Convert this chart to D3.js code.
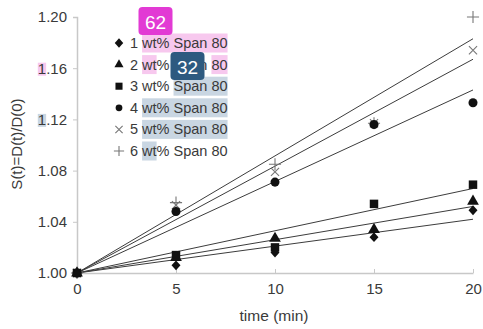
<!DOCTYPE html>
<html>
<head>
<meta charset="utf-8">
<script src="https://cdn.jsdelivr.net/npm/d3@7"></script>
<style>
    body { margin: 0; background: #fff; }
    .font { font-family: "Liberation Sans", Arial, sans-serif; }
</style>
</head>
<body>
<svg id="chart" width="483" height="329"></svg>
<script>
const SVG_WIDTH = 483;
const SVG_HEIGHT = 329;

// time points (min)
const TIMES = [0, 5, 10, 15, 20];
const SERIES_NAMES = ["1 wt% Span 80", "2 wt% Span 80", "3 wt% Span 80",
    "4 wt% Span 80", "5 wt% Span 80", "6 wt% Span 80"];
const SERIES_SYMBOLS = ["diamond", "triangle", "square", "circle", "cross", "plus"];
// measured S(t) per series
const S1 = [1.000, 1.006, 1.016, 1.028, 1.049];
const S2 = [1.000, 1.012, 1.027, 1.034, 1.056];
const S3 = [1.000, 1.014, 1.020, 1.054, 1.069];
const S4 = [1.000, 1.048, 1.071, 1.116, 1.133];
const S5 = [1.000, 1.053, 1.079, 1.117, 1.174];
const S6 = [1.000, 1.055, 1.085, 1.117, 1.200];
const SERIES_VALUES = [S1, S2, S3, S4, S5, S6];
// fitted line values at t = 20 (lines start at 1.00, t = 0)
const FIT_END = [1.042, 1.052, 1.066, 1.143, 1.167, 1.183];

const X_TICKS = [0, 5, 10, 15, 20];
const Y_TICKS = [1.00, 1.04, 1.08, 1.12, 1.16, 1.20];
const X_LABEL = "time (min)";
const Y_LABEL = "S(t)=D(t)/D(0)";

var svg = d3.select("#chart");

var xScale = d3.scaleLinear().domain([0, 20]).range([77, 473]);
var yScale = d3.scaleLinear().domain([1.0, 1.2]).range([273, 17]);

// axes
var yAxis = d3.axisLeft(yScale).tickValues(Y_TICKS).tickSize(4).tickPadding(6)
    .tickFormat(d3.format(".2f"));
var yAxisGroup = svg.append("g")
    .attr("transform", "translate(77,0)")
    .classed("font", true)
    .call(yAxis);
var xAxis = d3.axisBottom(xScale).tickValues(X_TICKS).tickSize(0).tickPadding(10);
var xAxisGroup = svg.append("g")
    .attr("transform", "translate(0,273)")
    .classed("font", true)
    .call(xAxis);
[yAxisGroup, xAxisGroup].forEach(function(g) {
    g.select(".domain").attr("stroke", "#c8c8c8").attr("stroke-width", 1.5);
    g.selectAll(".tick line").attr("stroke", "#c8c8c8");
    g.selectAll(".tick text").attr("fill", "#3a3a3a").style("font-size", "15px");
});
// small upward ticks on x axis
xAxisGroup.selectAll(".tick").filter(function(d) { return d > 0; })
    .append("line").attr("y1", 0).attr("y2", -4).attr("stroke", "#c8c8c8");

svg.append("text")
    .attr("x", 274).attr("y", 321)
    .attr("text-anchor", "middle")
    .attr("fill", "#3a3a3a")
    .style("font-size", "15.5px")
    .classed("font", true)
    .text(X_LABEL);
svg.append("text")
    .attr("transform", "translate(22,144) rotate(-90)")
    .attr("text-anchor", "middle")
    .attr("fill", "#3a3a3a")
    .style("font-size", "15px")
    .classed("font", true)
    .text(Y_LABEL);

// fit lines
var lineGroup = svg.append("g");
for (var i = 0; i < FIT_END.length; i++) {
    lineGroup.append("line")
        .attr("x1", xScale(0)).attr("y1", yScale(1.0))
        .attr("x2", xScale(20)).attr("y2", yScale(FIT_END[i]))
        .attr("stroke", "#3c3c3c")
        .attr("stroke-width", 1);
}

// markers
var wideDiamond = {
    draw: function(context, size) {
        var r = Math.sqrt(size / 2);
        context.moveTo(0, -r * 1.1);
        context.lineTo(r, 0);
        context.lineTo(0, r * 1.1);
        context.lineTo(-r, 0);
        context.closePath();
    }
};
function symbolFor(name) {
    switch (name) {
        case "diamond": return d3.symbol().type(wideDiamond).size(40);
        case "triangle": return d3.symbol().type(d3.symbolTriangle).size(60);
        case "square": return d3.symbol().type(d3.symbolSquare).size(72);
        case "circle": return d3.symbol().type(d3.symbolCircle).size(64);
        case "cross": return d3.symbol().type(d3.symbolTimes).size(45);
        case "plus": return d3.symbol().type(d3.symbolCross2 || d3.symbolPlus).size(50);
    }
}
function styleMarker(sel, name) {
    if (name === "cross" || name === "plus") {
        sel.attr("fill", "none").attr("stroke", "#777").attr("stroke-width", 1.1);
    } else {
        sel.attr("fill", "#111");
    }
}
var markGroup = svg.append("g");
for (var s = 5; s >= 0; s--) {
    var name = SERIES_SYMBOLS[s];
    var pts = markGroup.selectAll(null)
        .data(TIMES.map(function(t, j) { return {t: t, v: SERIES_VALUES[s][j]}; }))
        .enter()
        .append("path")
        .attr("d", symbolFor(name)())
        .attr("transform", function(d) {
            return "translate(" + xScale(d.t) + "," + yScale(d.v) + ")";
        });
    styleMarker(pts, name);
}

// legend with highlight marks
const HIGHLIGHTS = [
    [[2, 13, "#f7c8ee"]],
    [[2, 4, "#f7c8ee"], [11, 13, "#f7c8ee"]],
    [[6, 13, "#c9d6e2"]],
    [[2, 13, "#c9d6e2"]],
    [[2, 13, "#c9d6e2"]],
    [[2, 4, "#c9d6e2"]]
];
var legend = svg.append("g").classed("font", true);
SERIES_NAMES.forEach(function(label, i) {
    var cy = 43 + i * 21.6;
    var row = legend.append("g");
    var hl = row.append("g");
    var txt = row.append("text")
        .attr("x", 130).attr("y", cy)
        .attr("dominant-baseline", "central")
        .attr("fill", "#3a3a3a")
        .style("font-size", "14.5px")
        .text(label);
    var node = txt.node();
    HIGHLIGHTS[i].forEach(function(h) {
        var x0 = 130 + node.getSubStringLength(0, h[0]);
        var w = node.getSubStringLength(h[0], h[1] - h[0]);
        hl.append("rect")
            .attr("x", x0).attr("y", cy - 9.5)
            .attr("width", w).attr("height", 19)
            .attr("fill", h[2]);
    });
    var m = row.append("path")
        .attr("d", symbolFor(SERIES_SYMBOLS[i]).size(SERIES_SYMBOLS[i] === "square" ? 50 : 36)())
        .attr("transform", "translate(119," + cy + ")");
    styleMarker(m, SERIES_SYMBOLS[i]);
});

// highlight the leading "1" of two y tick labels
yAxisGroup.selectAll(".tick").each(function(d) {
    var color = null;
    if (Math.abs(d - 1.16) < 1e-6) color = "#f7c8ee";
    if (Math.abs(d - 1.12) < 1e-6) color = "#c9d6e2";
    if (!color) return;
    var t = d3.select(this).select("text");
    var bb = t.node().getBBox();
    var w = t.node().getSubStringLength(0, 1);
    d3.select(this).insert("rect", "text")
        .attr("x", bb.x).attr("y", -6)
        .attr("width", w).attr("height", 13)
        .attr("fill", color);
});

// badges
const BADGES = [
    {label: "62", fill: "#e23ad4", cx: 155.5, cy: 21},
    {label: "32", fill: "#2d5a80", cx: 187.5, cy: 66}
];
var badgeGroup = svg.append("g").classed("font", true);
BADGES.forEach(function(b) {
    badgeGroup.append("rect")
        .attr("x", b.cx - 17).attr("y", b.cy - 14)
        .attr("width", 34).attr("height", 28)
        .attr("rx", 4)
        .attr("fill", b.fill);
    badgeGroup.append("text")
        .attr("x", b.cx).attr("y", b.cy + 1)
        .attr("text-anchor", "middle")
        .attr("dominant-baseline", "central")
        .attr("fill", "#fff")
        .style("font-size", "19px")
        .text(b.label);
});
</script>
</body>
</html>
